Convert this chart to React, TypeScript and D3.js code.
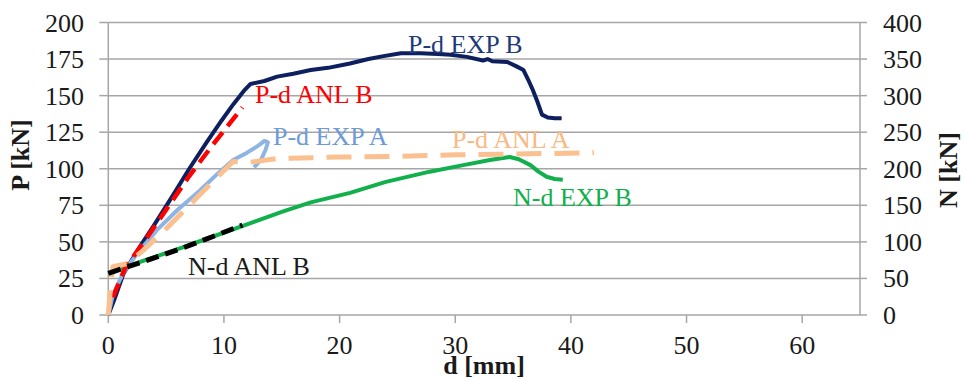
import React from "react";
import * as d3 from "d3";

// P-d EXP B (left axis, kN)
const expBd = [0, 0.5, 1.3, 2.75, 4, 5.6, 7, 8.5, 9.8, 10.8, 11.7, 12.3, 13.5, 14.6, 16, 17.5, 19, 20.9, 22.5, 23.8, 25.3, 27, 28.5, 29.6, 31, 32.4, 32.8, 33.2, 34.5, 35.3, 35.9, 36.3, 36.7, 37.1, 37.5, 38, 38.6, 39.2];
const expBP = [0, 10, 28, 47, 62, 82, 100, 118, 133, 144, 153, 158, 160, 163, 165, 167.5, 169, 172, 175, 177, 179, 179, 178.5, 178, 176.5, 174, 175, 173.5, 173, 170, 167.5, 161, 154, 146, 137, 135, 134.5, 134.5];

// P-d ANL B
const anlBd = [0.4, 1.5, 3, 5, 7, 9, 10.5, 11.6];
const anlBP = [12, 33, 49, 72, 95, 116, 131, 142];

// P-d EXP A
const expAd = [0, 0.4, 1.3, 2.5, 4.2, 6, 7.9, 9.5, 10.8, 12, 13, 13.5, 13.8, 13.6, 13.2, 12.6];
const expAP = [0, 14, 29, 42, 58, 72, 85, 97, 106, 111, 116, 119, 118, 113, 106, 101];

// P-d ANL A
const anlAd = [0, 0.2, 0.4, 1, 1.6, 3, 5, 7, 9, 10.8, 12.3, 14.6, 20, 25, 30, 35, 42];
const anlAP = [0, 20, 33, 34, 35, 44, 59, 75, 91, 105, 104.5, 107, 108, 108.5, 109.5, 110, 111];

// N-d EXP B (right axis, kN)
const nExpBd = [0, 3, 6, 9, 12, 15, 17.5, 20.9, 24, 27.8, 30.7, 33, 34.7, 35.5, 36.5, 37.2, 37.9, 38.6, 39.3];
const nExpBN = [57, 74, 90, 107, 124, 141, 154, 167, 182, 196, 205, 212, 216, 213, 205, 196, 189, 186, 185];

// N-d ANL B
const nAnlBd = [0, 3, 6, 9, 11.6];
const nAnlBN = [57, 73, 89, 107, 123];

const xTicks = [0, 10, 20, 30, 40, 50, 60];
const pTicks = [0, 25, 50, 75, 100, 125, 150, 175, 200];
const nTicks = [0, 50, 100, 150, 200, 250, 300, 350, 400];

const font = "'Liberation Serif', 'Times New Roman', serif";
const grid = "#a6a6a6";

export default function App() {
  const left = 108.3, right = 860, top = 22.5, bottom = 315;
  const x = d3.scaleLinear().domain([0, 65]).range([left, right]);
  const yP = d3.scaleLinear().domain([0, 200]).range([bottom, top]);
  const yN = d3.scaleLinear().domain([0, 400]).range([bottom, top]);

  const pLine = (ds: number[], vs: number[]) =>
    d3.line<number>().x((_, i) => x(ds[i])).y((v) => yP(v))(vs) || "";
  const nLine = (ds: number[], vs: number[]) =>
    d3.line<number>().x((_, i) => x(ds[i])).y((v) => yN(v))(vs) || "";

  const series = [
    { d: pLine(expBd, expBP), color: "#0d1f5e", w: 4, dash: "" },
    { d: pLine(expAd, expAP), color: "#8eb4e3", w: 4, dash: "" },
    { d: nLine(nExpBd, nExpBN), color: "#12b04c", w: 4, dash: "" },
    { d: pLine(anlBd, anlBP), color: "#ff0000", w: 4.5, dash: "15 8" },
    { d: pLine(anlAd, anlAP), color: "#fac08f", w: 5, dash: "25 13" },
    { d: nLine(nAnlBd, nAnlBN), color: "#000000", w: 5, dash: "13 7" },
  ];

  const labels = [
    { t: "P-d EXP B", x: 408, y: 53, c: "#1f3a7a" },
    { t: "P-d ANL B", x: 255, y: 103, c: "#ff0000" },
    { t: "P-d EXP A", x: 273, y: 145, c: "#6e9bd6" },
    { t: "P-d ANL A", x: 452, y: 148, c: "#f9b985" },
    { t: "N-d EXP B", x: 513, y: 206, c: "#12b04c" },
    { t: "N-d ANL B", x: 188, y: 275, c: "#1a1a1a" },
  ];

  return (
    <svg width={965} height={380} style={{ position: "absolute", left: 0, top: 0, background: "#fff" }} fontFamily={font}>
      {pTicks.map((t) => (
        <line key={"g" + t} x1={left} x2={right} y1={yP(t)} y2={yP(t)} stroke={grid} strokeWidth={1.5} />
      ))}
      <line x1={left} x2={left} y1={top} y2={bottom} stroke={grid} strokeWidth={1.5} />
      <line x1={right} x2={right} y1={top} y2={bottom} stroke={grid} strokeWidth={1.5} />
      {pTicks.map((t) => (
        <g key={"pt" + t}>
          <line x1={left - 9} x2={left} y1={yP(t)} y2={yP(t)} stroke={grid} strokeWidth={1.5} />
          <text x={84} y={yP(t) + 9} textAnchor="end" fontSize={26} fill="#1a1a1a">{t}</text>
        </g>
      ))}
      {nTicks.map((t) => (
        <g key={"nt" + t}>
          <line x1={right} x2={right + 7} y1={yN(t)} y2={yN(t)} stroke={grid} strokeWidth={1.5} />
          <text x={883} y={yN(t) + 9} textAnchor="start" fontSize={26} fill="#1a1a1a">{t}</text>
        </g>
      ))}
      {xTicks.map((t) => (
        <g key={"xt" + t}>
          <line x1={x(t)} x2={x(t)} y1={bottom} y2={bottom + 8} stroke={grid} strokeWidth={1.5} />
          <text x={x(t)} y={354} textAnchor="middle" fontSize={26} fill="#1a1a1a">{t}</text>
        </g>
      ))}
      {series.map((s, i) => (
        <path key={i} d={s.d} fill="none" stroke={s.color} strokeWidth={s.w}
          strokeDasharray={s.dash || undefined} strokeLinejoin="round" />
      ))}
      {labels.map((l) => (
        <text key={l.t} x={l.x} y={l.y} fontSize={26} fill={l.c}>{l.t}</text>
      ))}
      <text x={484} y={374} textAnchor="middle" fontSize={26} fontWeight="bold" fill="#1a1a1a">d [mm]</text>
      <text transform="translate(29,155) rotate(-90)" textAnchor="middle" fontSize={26} fontWeight="bold" fill="#1a1a1a">P [kN]</text>
      <text transform="translate(957,170) rotate(-90)" textAnchor="middle" fontSize={26} fontWeight="bold" fill="#1a1a1a">N [kN]</text>
    </svg>
  );
}
